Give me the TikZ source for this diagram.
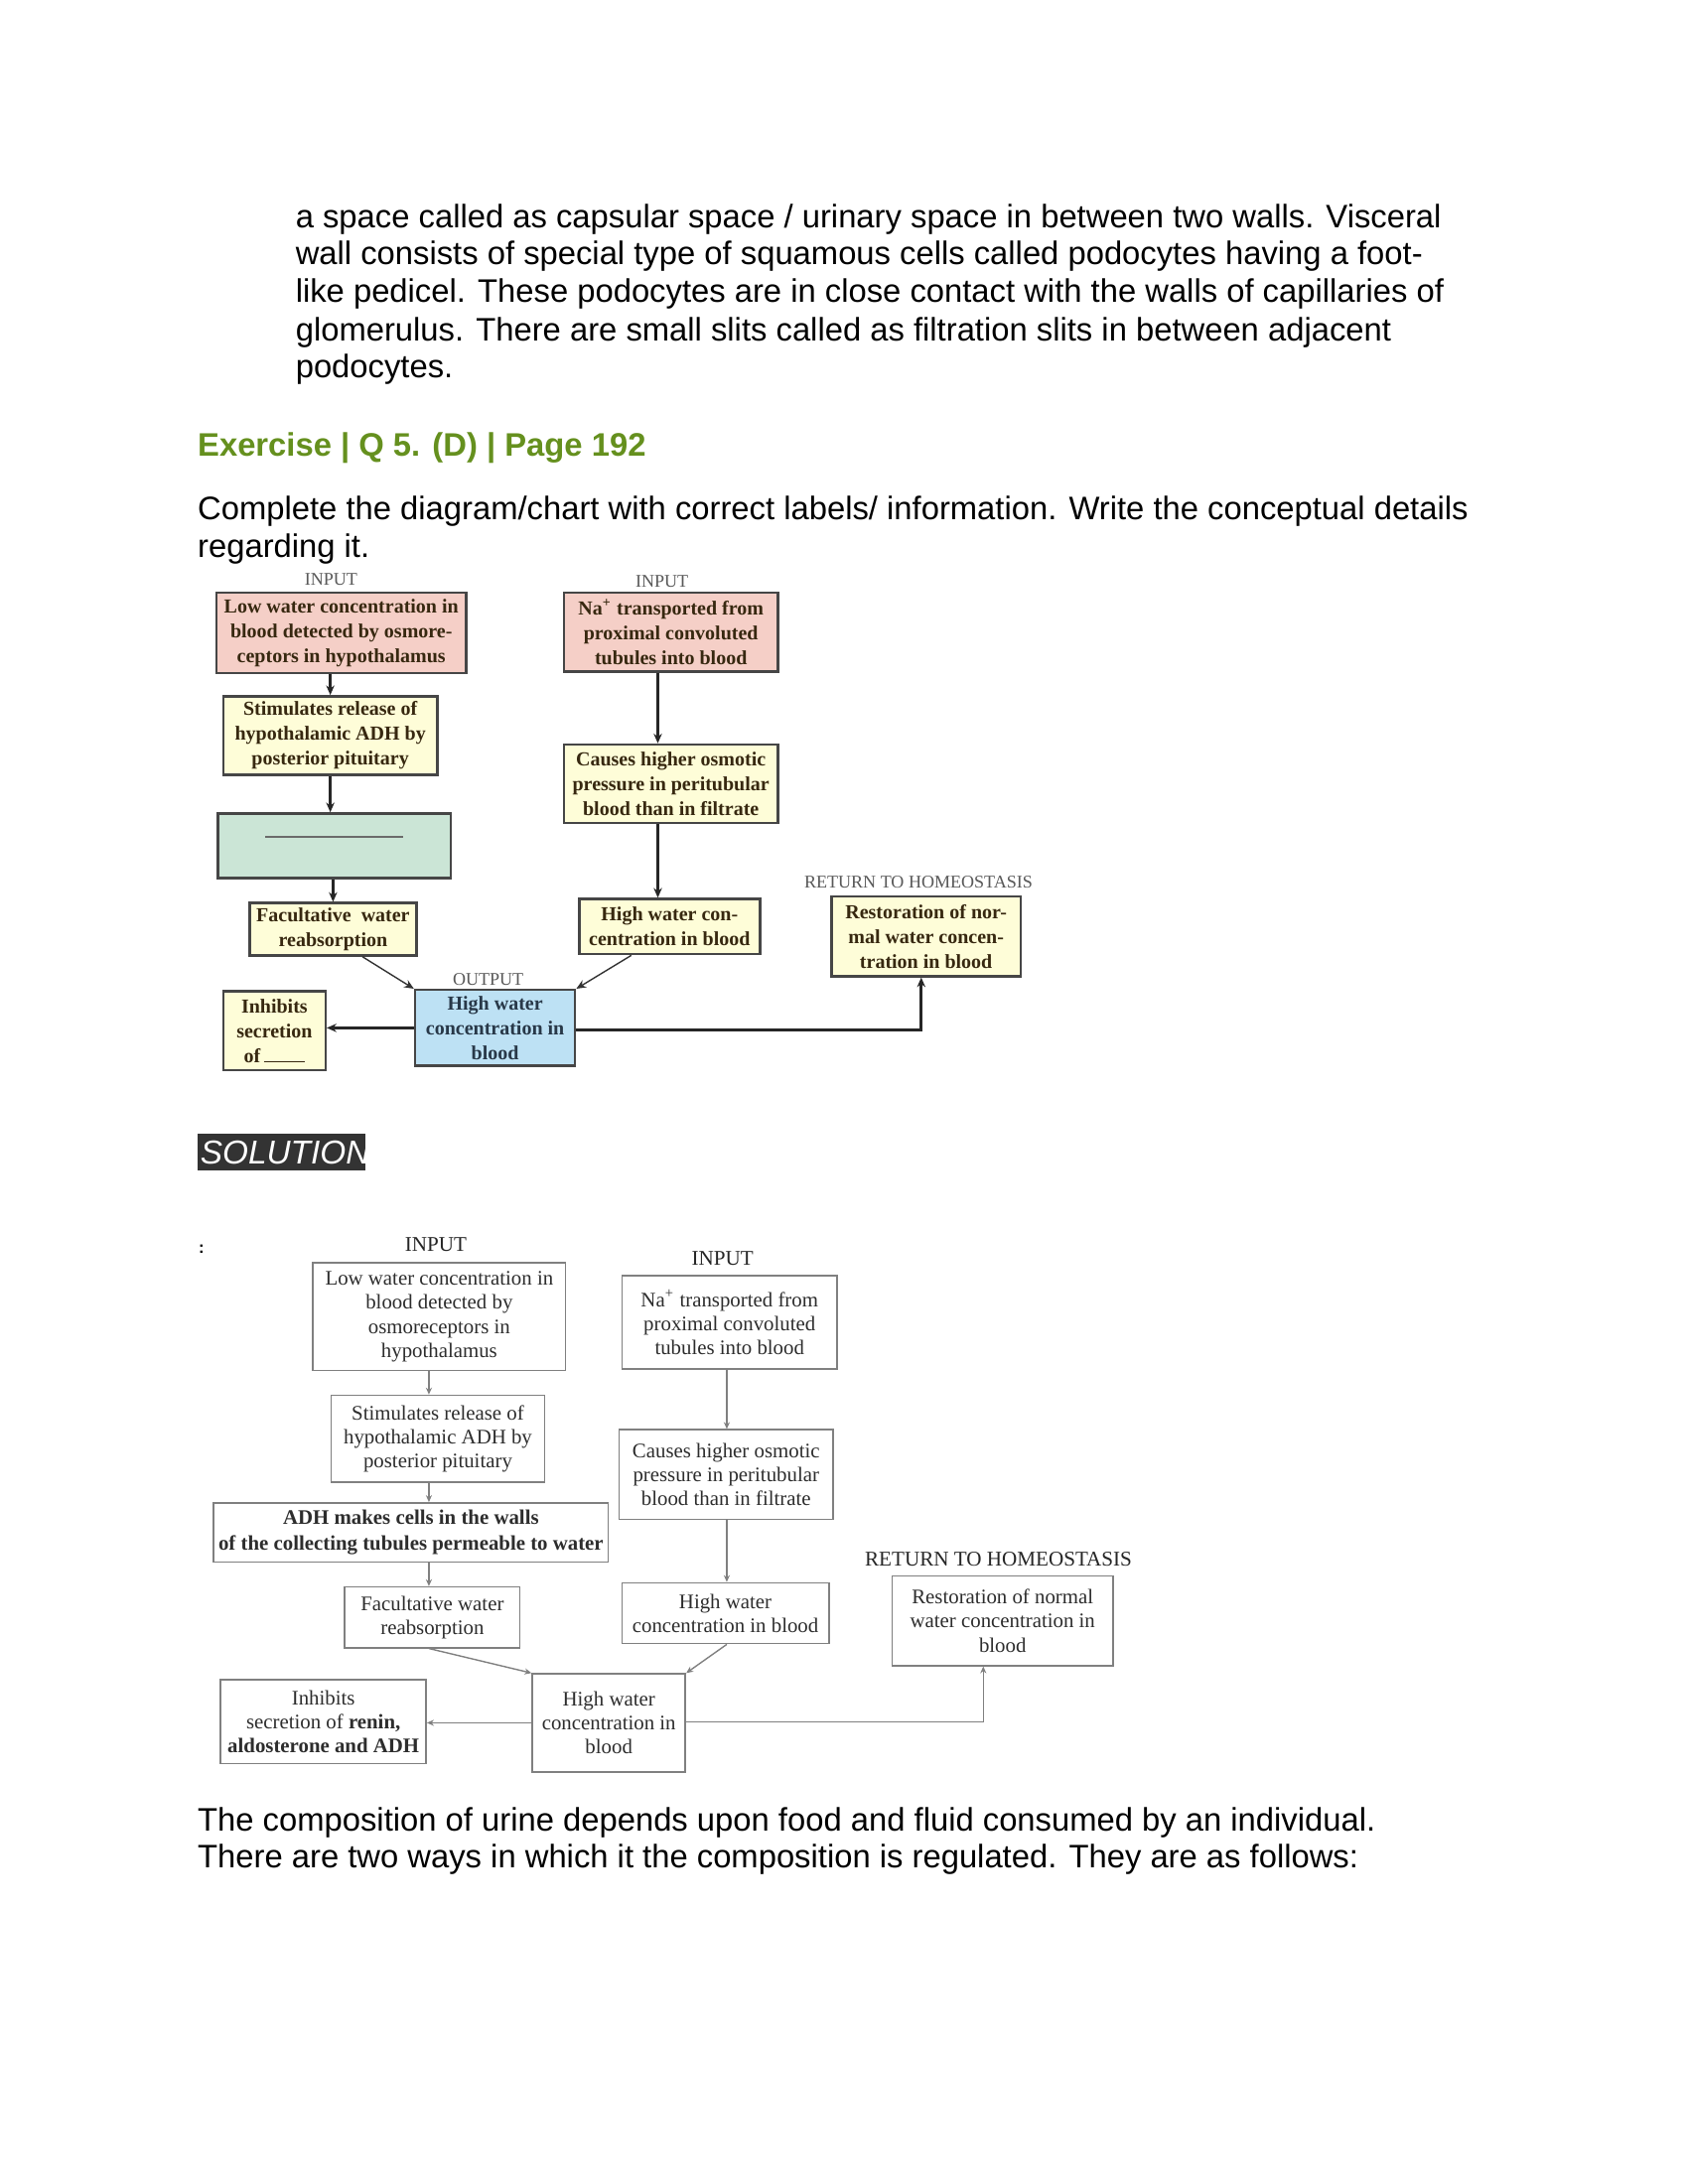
\documentclass[tikz,border=0pt]{standalone}
\usepackage{fontspec}
\setmainfont{Liberation Sans}
\newfontfamily\boxfont{Liberation Serif}
\usetikzlibrary{arrows.meta,calc}
\definecolor{headgreen}{RGB}{101,144,30}
\definecolor{pinkfill}{RGB}{245,207,199}
\definecolor{yellowfill}{RGB}{254,253,216}
\definecolor{greenfill}{RGB}{203,229,214}
\definecolor{bluefill}{RGB}{189,225,244}
\definecolor{uptext}{RGB}{55,40,16}
\definecolor{outtext}{RGB}{40,56,72}
\definecolor{upline}{RGB}{70,70,70}
\definecolor{loline}{RGB}{128,128,128}
\definecolor{lotext}{RGB}{45,45,45}
\definecolor{solbg}{RGB}{51,51,51}
\begin{document}
\begin{tikzpicture}[x=0.5pt,y=0.5pt,yscale=-1,xscale=1,
  upbox/.style={draw=upline,line width=0.9pt,inner sep=1pt,align=center,text=uptext,font=\boxfont\bfseries\fontsize{7.2}{9}\selectfont},
  lobox/.style={draw=loline,line width=0.6pt,inner sep=0.5pt,align=center,text=lotext,font=\boxfont\fontsize{7.5}{8.7}\selectfont},
  uparrow/.style={draw=black!85,line width=1pt,-{Stealth[length=3.5pt,width=3pt]}},
  upthin/.style={draw=black!80,line width=0.5pt,-{Stealth[length=3.5pt,width=3pt]}},
  loarrow/.style={draw=loline,line width=0.5pt,-{Stealth[length=2.5pt,width=2.2pt]}},
  uplabel/.style={text=black!65,font=\boxfont\fontsize{6.5}{7}\selectfont,inner sep=0pt},
  lolabel/.style={text=black!85,font=\boxfont\fontsize{7.6}{8}\selectfont,inner sep=0pt},
  bodytext/.style={anchor=base west,inner sep=0pt,font=\fontsize{11.8}{14}\selectfont}
]
%uncomment if require: \path (0,1584); %page of 1224 x 1584
\fill[white] (0,0) rectangle (1224,1584);
\path[use as bounding box] (0,0) rectangle (1224,1584);

% Text Node
\node[bodytext] (par1) at (214,165) {a space called as capsular space / urinary space in between two walls. Visceral};
\node[bodytext] (par2) at (214,192) {wall consists of special type of squamous cells called podocytes having a foot-};
\node[bodytext] (par3) at (214,219) {like pedicel. These podocytes are in close contact with the walls of capillaries of};
\node[bodytext] (par4) at (214,247) {glomerulus. There are small slits called as filtration slits in between adjacent};
\node[bodytext] (par5) at (214,274) {podocytes.};

% Text Node
\node[bodytext,text=headgreen,font=\bfseries\fontsize{11.8}{14}\selectfont] (head) at (143,331) {Exercise | Q 5. (D) | Page 192};
\node[bodytext] (task1) at (143,377) {Complete the diagram/chart with correct labels/ information. Write the conceptual details};
\node[bodytext] (task2) at (143,404) {regarding it.};

%Shape: Rectangle -- question chart, left column
\node[upbox,fill=pinkfill,minimum width=90.5pt,minimum height=29pt] (upLow) at (247.5,459) {Low water concentration in\\blood detected by osmore-\\ceptors in hypothalamus};
\node[upbox,fill=yellowfill,minimum width=77.5pt,minimum height=28.5pt] (upStim) at (239.5,533.5) {Stimulates release of\\hypothalamic ADH by\\posterior pituitary};
\node[upbox,fill=greenfill,minimum width=84.5pt,minimum height=23.5pt] (upBlank) at (242.5,613.5) {};
\node[upbox,fill=yellowfill,minimum width=60.5pt,minimum height=19pt] (upFac) at (241.5,674) {Facultative\ \ water\\reabsorption};
\node[upbox,fill=yellowfill,minimum width=37pt,minimum height=28.5pt] (upInh) at (199,747.5) {Inhibits\\secretion\\of\,\rule{15pt}{0.4pt}};
\node[upbox,fill=bluefill,text=outtext,minimum width=58pt,minimum height=27.5pt] (upOut) at (359,745.5) {High water\\concentration in\\blood};
%Shape: Rectangle -- question chart, right column
\node[upbox,fill=pinkfill,minimum width=77.5pt,minimum height=28.5pt] (upNa) at (486.5,458.5) {Na\textsuperscript{+} transported from\\proximal convoluted\\tubules into blood};
\node[upbox,fill=yellowfill,minimum width=77.5pt,minimum height=28.5pt] (upCause) at (486.5,568.5) {Causes higher osmotic\\pressure in peritubular\\blood than in filtrate};
\node[upbox,fill=yellowfill,minimum width=65.5pt,minimum height=20pt] (upHigh) at (485.5,672) {High water con-\\centration in blood};
\node[upbox,fill=yellowfill,minimum width=68.5pt,minimum height=29pt] (upRest) at (671.5,679) {Restoration of nor-\\mal water concen-\\tration in blood};

%Straight Lines -- blank to fill in
\draw[draw=upline!80,line width=0.6pt] ($(upBlank.center)+(-50,-6.5)$) -- ++(100,0);

% Text Node
\node[uplabel] (upIn1) at (240,420) {INPUT};
\node[uplabel] (upIn2) at (480,422) {INPUT};
\node[uplabel] (upOutLab) at (354,710) {OUTPUT};
\node[uplabel] (upRet) at (666,640) {RETURN TO HOMEOSTASIS};

%Straight Lines
\coordinate (upRight) at (477,0);
\coordinate (upTurn) at (668,747);
\draw[uparrow] (upLow.south -| upStim.center) -- (upStim.north);
\draw[uparrow] (upStim.south) -- (upStim.south |- upBlank.north);
\draw[uparrow] (upBlank.south -| upFac.center) -- (upFac.north);
\draw[upthin] (upFac.-43) -- (upOut.north west);
\draw[uparrow] (upNa.south -| upRight) -- (upCause.north -| upRight);
\draw[uparrow] (upCause.south -| upRight) -- (upHigh.north -| upRight);
\draw[upthin] (upHigh.-143) -- (upOut.north east);
\draw[uparrow] (upOut.west) -- (upOut.west -| upInh.east);
\draw[uparrow] (upOut.east |- upTurn) -- (upTurn) -- (upTurn |- upRest.south);

%Shape: Rectangle -- solution banner
\fill[solbg] (143,822) rectangle (265,849);
\begin{scope}
\clip (143,822) rectangle (265,849);
\node[anchor=base west,inner sep=0pt,text=white,font=\itshape\fontsize{12}{14}\selectfont] (sol) at (145,844) {SOLUTION};
\end{scope}
\node[inner sep=0pt,font=\bfseries\fontsize{6}{6}\selectfont] (colon) at (146,906) {:};

%Shape: Rectangle -- answer chart, left column
\node[lobox,minimum width=91.5pt,minimum height=39pt] (loLow) at (318.5,955) {Low water concentration in\\blood detected by\\osmoreceptors in\\hypothalamus};
\node[lobox,minimum width=77.5pt,minimum height=31.5pt] (loStim) at (317.5,1043.5) {Stimulates release of\\hypothalamic ADH by\\posterior pituitary};
\node[lobox,font=\boxfont\bfseries\fontsize{7.5}{9.5}\selectfont,minimum width=143pt,minimum height=21.5pt] (loADH) at (298,1111.5) {ADH makes cells in the walls\\of the collecting tubules permeable to water};
\node[lobox,minimum width=63.5pt,minimum height=22pt] (loFac) at (313.5,1173) {Facultative water\\reabsorption};
\node[lobox,minimum width=74.5pt,minimum height=30.5pt] (loInh) at (234.5,1248.5) {Inhibits\\secretion of \textbf{renin,}\\\textbf{aldosterone and ADH}};
\node[lobox,minimum width=55.5pt,minimum height=35.5pt] (loOut) at (441.5,1249.5) {High water\\concentration in\\blood};
%Shape: Rectangle -- answer chart, right column
\node[lobox,minimum width=78pt,minimum height=34pt] (loNa) at (529,959) {Na\textsuperscript{+} transported from\\proximal convoluted\\tubules into blood};
\node[lobox,minimum width=77.5pt,minimum height=32.5pt] (loCause) at (526.5,1069.5) {Causes higher osmotic\\pressure in peritubular\\blood than in filtrate};
\node[lobox,minimum width=75pt,minimum height=22pt] (loHigh) at (526,1170) {High water\\concentration in blood};
\node[lobox,minimum width=80pt,minimum height=32.5pt] (loRest) at (727,1175.5) {Restoration of normal\\water concentration in\\blood};

% Text Node
\node[lolabel] (loIn1) at (316,903) {INPUT};
\node[lolabel] (loIn2) at (524,913) {INPUT};
\node[lolabel] (loRet) at (724,1131) {RETURN TO HOMEOSTASIS};

%Straight Lines
\coordinate (loLeft) at (311,0);
\coordinate (loRight) at (527,0);
\coordinate (loTurn) at (713,1249);
\draw[loarrow] (loLow.south -| loLeft) -- (loStim.north -| loLeft);
\draw[loarrow] (loStim.south -| loLeft) -- (loADH.north -| loLeft);
\draw[loarrow] (loADH.south -| loLeft) -- (loFac.north -| loLeft);
\draw[loarrow] (loFac.south -| loLeft) -- (loOut.north west);
\draw[loarrow] (loNa.south -| loRight) -- (loCause.north -| loRight);
\draw[loarrow] (loCause.south -| loRight) -- (loHigh.north -| loRight);
\draw[loarrow] (loHigh.south -| loRight) -- (loOut.north east);
\draw[loarrow] (loOut.west) -- (loOut.west -| loInh.east);
\draw[loarrow] (loOut.east |- loTurn) -- (loTurn) -- (loTurn |- loRest.south);

% Text Node
\node[bodytext] (end1) at (143,1328) {The composition of urine depends upon food and fluid consumed by an individual.};
\node[bodytext] (end2) at (143,1355) {There are two ways in which it the composition is regulated. They are as follows:};

\end{tikzpicture}
\end{document}
